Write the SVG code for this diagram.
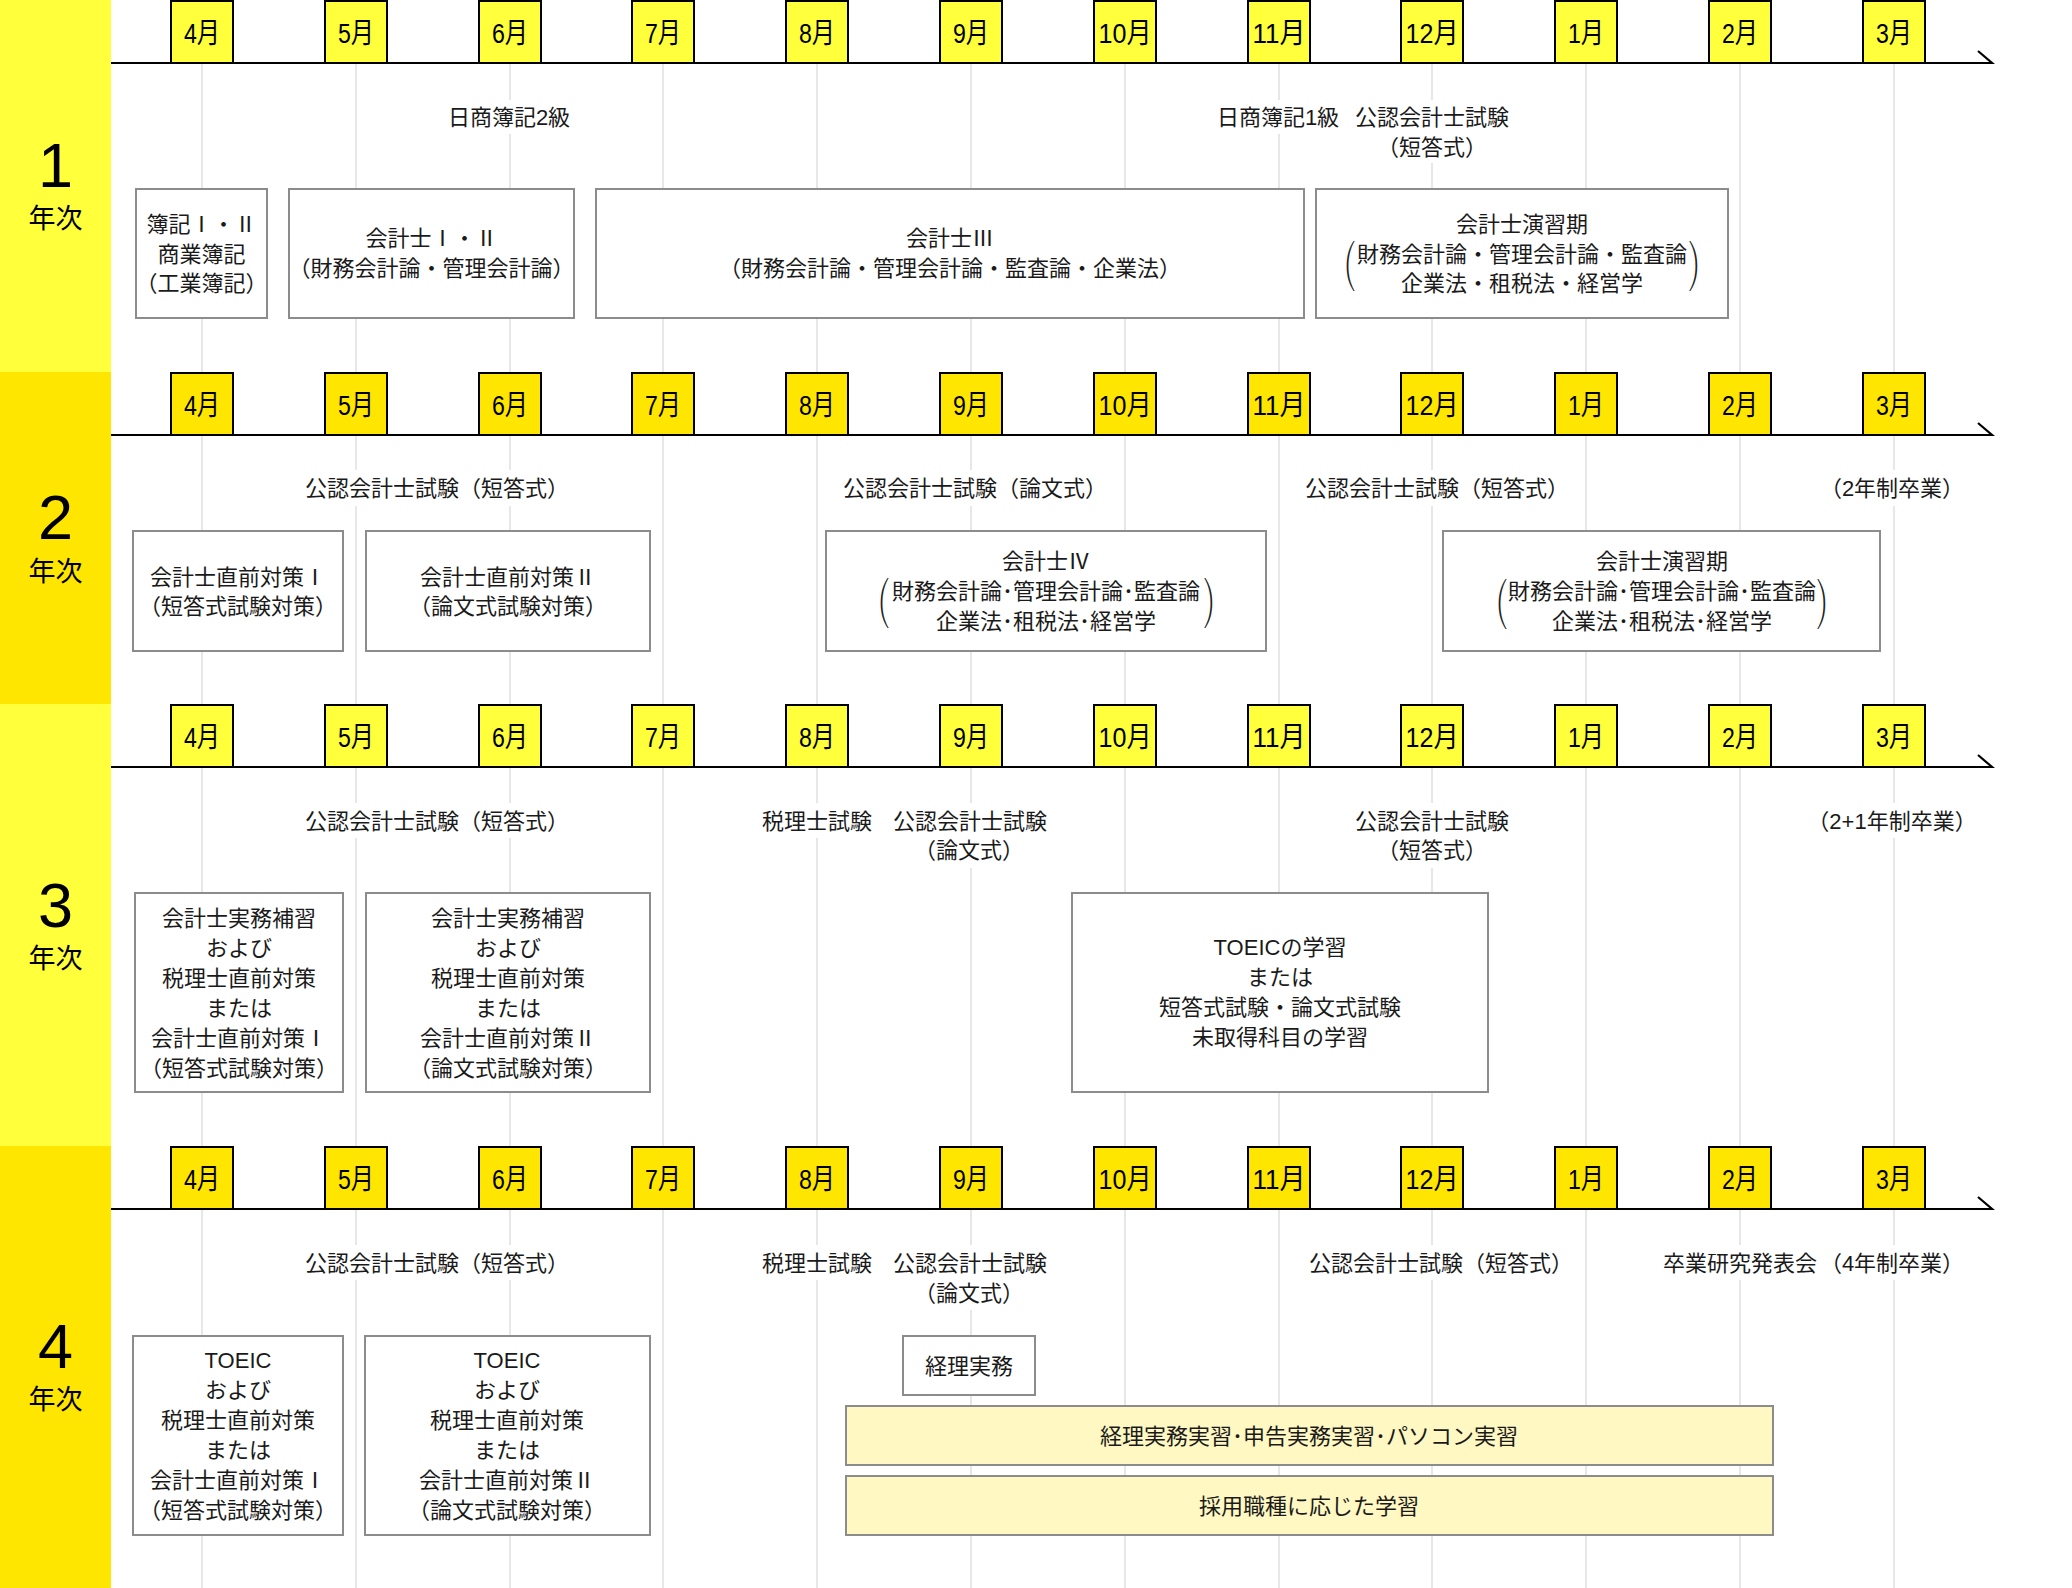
<svg xmlns="http://www.w3.org/2000/svg" width="2072" height="1588" viewBox="0 0 2072 1588">
<defs>
<style>
.s1{fill:#FFFF3C}
.s2{fill:#FFE600}
.m1{fill:#FFFF3C;stroke:#000;stroke-width:2}
.m2{fill:#FFE600;stroke:#000;stroke-width:2}
.ml{font-family:"Liberation Sans","Noto Sans CJK JP",sans-serif;font-size:28px;text-anchor:middle;fill:#000}
.grid{fill:none;stroke:#cfcfcf;stroke-width:1}
.axis{fill:none;stroke:#000;stroke-width:2.2}
.box{fill:#fff;stroke:#8c8c8c;stroke-width:2}
.ybox{fill:#FFF8C2;stroke:#8c8c8c;stroke-width:2}
.t{font-family:"Liberation Sans","Noto Sans CJK JP",sans-serif;font-size:22px;text-anchor:middle;fill:#1a1a1a}
.bg{fill:#fff}
.p{font-family:"Liberation Sans",sans-serif;font-size:40px;text-anchor:middle;fill:#1a1a1a;stroke:#fff;stroke-width:1.6px}
.yr{font-family:"Liberation Sans",sans-serif;font-size:63px;text-anchor:middle;fill:#000}
.yk{font-family:"Liberation Sans","Noto Sans CJK JP",sans-serif;font-size:27px;text-anchor:middle;fill:#000}
</style>
</defs>
<rect x="0" y="0" width="2072" height="1588" fill="#fff"/>

<g id="sidebar">
<rect class="s1" x="0" y="0" width="111" height="372"/>
<rect class="s2" x="0" y="372" width="111" height="332"/>
<rect class="s1" x="0" y="704" width="111" height="442"/>
<rect class="s2" x="0" y="1146" width="111" height="442"/>
<text class="yr" x="55.5" y="187">1</text><text class="yk" x="55.5" y="228">年次</text>
<text class="yr" x="55.5" y="539">2</text><text class="yk" x="55.5" y="581">年次</text>
<text class="yr" x="55.5" y="927">3</text><text class="yk" x="55.5" y="968">年次</text>
<text class="yr" x="55.5" y="1368">4</text><text class="yk" x="55.5" y="1409">年次</text>
</g>

<g id="connectors">
<path class="grid" d="M202 63V372M356 63V372M510 63V372M663 63V372M817 63V372M971 63V372M1125 63V372M1279 63V372M1432 63V372M1586 63V372M1740 63V372M1894 63V372"/>
<path class="grid" d="M202 435V704M356 435V704M510 435V704M663 435V704M817 435V704M971 435V704M1125 435V704M1279 435V704M1432 435V704M1586 435V704M1740 435V704M1894 435V704"/>
<path class="grid" d="M202 767V1146M356 767V1146M510 767V1146M663 767V1146M817 767V1146M971 767V1146M1125 767V1146M1279 767V1146M1432 767V1146M1586 767V1146M1740 767V1146M1894 767V1146"/>
<path class="grid" d="M202 1209V1588M356 1209V1588M510 1209V1588M663 1209V1588M817 1209V1588M971 1209V1588M1125 1209V1588M1279 1209V1588M1432 1209V1588M1586 1209V1588M1740 1209V1588M1894 1209V1588"/>
<path class="axis" d="M111 63H1992L1978 51"/>
<path class="axis" d="M111 435H1992L1978 423"/>
<path class="axis" d="M111 767H1992L1978 755"/>
<path class="axis" d="M111 1209H1992L1978 1197"/>
</g>

<g id="labels">
<rect class="bg" x="442" y="100" width="134" height="34"/>
<text class="t" x="509" y="125">日商簿記2級</text>
<rect class="bg" x="1211" y="100" width="134" height="34"/>
<text class="t" x="1278" y="125">日商簿記1級</text>
<rect class="bg" x="1350" y="100" width="164" height="63"/>
<text class="t" x="1432" y="125">公認会計士試験</text>
<text class="t" x="1432" y="155">（短答式）</text>

<rect class="bg" x="300" y="470" width="262" height="36"/>
<text class="t" x="437" y="496">公認会計士試験（短答式）</text>
<rect class="bg" x="839" y="470" width="261" height="36"/>
<text class="t" x="975" y="496">公認会計士試験（論文式）</text>
<rect class="bg" x="1301" y="470" width="262" height="36"/>
<text class="t" x="1437" y="496">公認会計士試験（短答式）</text>
<rect class="bg" x="1826" y="470" width="132" height="36"/>
<text class="t" x="1892" y="496">（2年制卒業）</text>

<rect class="bg" x="300" y="803" width="262" height="35"/>
<text class="t" x="437" y="829">公認会計士試験（短答式）</text>
<rect class="bg" x="756" y="803" width="122" height="35"/>
<text class="t" x="817" y="829">税理士試験</text>
<rect class="bg" x="887" y="803" width="166" height="65"/>
<text class="t" x="970" y="829">公認会計士試験</text>
<text class="t" x="969" y="858">（論文式）</text>
<rect class="bg" x="1350" y="803" width="165" height="65"/>
<text class="t" x="1432" y="829">公認会計士試験</text>
<text class="t" x="1432" y="858">（短答式）</text>
<rect class="bg" x="1812" y="803" width="160" height="35"/>
<text class="t" x="1892" y="829">（2+1年制卒業）</text>

<rect class="bg" x="300" y="1245" width="262" height="35"/>
<text class="t" x="437" y="1271">公認会計士試験（短答式）</text>
<rect class="bg" x="756" y="1245" width="122" height="35"/>
<text class="t" x="817" y="1271">税理士試験</text>
<rect class="bg" x="887" y="1245" width="166" height="65"/>
<text class="t" x="970" y="1271">公認会計士試験</text>
<text class="t" x="969" y="1301">（論文式）</text>
<rect class="bg" x="1305" y="1245" width="262" height="35"/>
<text class="t" x="1441" y="1271">公認会計士試験（短答式）</text>
<rect class="bg" x="1656" y="1245" width="164" height="35"/>
<text class="t" x="1740" y="1271">卒業研究発表会</text>
<rect class="bg" x="1826" y="1245" width="132" height="35"/>
<text class="t" x="1892" y="1271">（4年制卒業）</text>
</g>

<g id="months-1">
<rect class="m1" x="171" y="1" width="62" height="62"/><text class="ml" x="202" y="43" textLength="36" lengthAdjust="spacingAndGlyphs">4月</text>
<rect class="m1" x="325" y="1" width="62" height="62"/><text class="ml" x="356" y="43" textLength="36" lengthAdjust="spacingAndGlyphs">5月</text>
<rect class="m1" x="479" y="1" width="62" height="62"/><text class="ml" x="510" y="43" textLength="36" lengthAdjust="spacingAndGlyphs">6月</text>
<rect class="m1" x="632" y="1" width="62" height="62"/><text class="ml" x="663" y="43" textLength="36" lengthAdjust="spacingAndGlyphs">7月</text>
<rect class="m1" x="786" y="1" width="62" height="62"/><text class="ml" x="817" y="43" textLength="36" lengthAdjust="spacingAndGlyphs">8月</text>
<rect class="m1" x="940" y="1" width="62" height="62"/><text class="ml" x="971" y="43" textLength="36" lengthAdjust="spacingAndGlyphs">9月</text>
<rect class="m1" x="1094" y="1" width="62" height="62"/><text class="ml" x="1125" y="43" textLength="53" lengthAdjust="spacingAndGlyphs">10月</text>
<rect class="m1" x="1248" y="1" width="62" height="62"/><text class="ml" x="1279" y="43" textLength="53" lengthAdjust="spacingAndGlyphs">11月</text>
<rect class="m1" x="1401" y="1" width="62" height="62"/><text class="ml" x="1432" y="43" textLength="53" lengthAdjust="spacingAndGlyphs">12月</text>
<rect class="m1" x="1555" y="1" width="62" height="62"/><text class="ml" x="1586" y="43" textLength="36" lengthAdjust="spacingAndGlyphs">1月</text>
<rect class="m1" x="1709" y="1" width="62" height="62"/><text class="ml" x="1740" y="43" textLength="36" lengthAdjust="spacingAndGlyphs">2月</text>
<rect class="m1" x="1863" y="1" width="62" height="62"/><text class="ml" x="1894" y="43" textLength="36" lengthAdjust="spacingAndGlyphs">3月</text>
</g>

<g id="months-2">
<rect class="m2" x="171" y="373" width="62" height="62"/><text class="ml" x="202" y="415" textLength="36" lengthAdjust="spacingAndGlyphs">4月</text>
<rect class="m2" x="325" y="373" width="62" height="62"/><text class="ml" x="356" y="415" textLength="36" lengthAdjust="spacingAndGlyphs">5月</text>
<rect class="m2" x="479" y="373" width="62" height="62"/><text class="ml" x="510" y="415" textLength="36" lengthAdjust="spacingAndGlyphs">6月</text>
<rect class="m2" x="632" y="373" width="62" height="62"/><text class="ml" x="663" y="415" textLength="36" lengthAdjust="spacingAndGlyphs">7月</text>
<rect class="m2" x="786" y="373" width="62" height="62"/><text class="ml" x="817" y="415" textLength="36" lengthAdjust="spacingAndGlyphs">8月</text>
<rect class="m2" x="940" y="373" width="62" height="62"/><text class="ml" x="971" y="415" textLength="36" lengthAdjust="spacingAndGlyphs">9月</text>
<rect class="m2" x="1094" y="373" width="62" height="62"/><text class="ml" x="1125" y="415" textLength="53" lengthAdjust="spacingAndGlyphs">10月</text>
<rect class="m2" x="1248" y="373" width="62" height="62"/><text class="ml" x="1279" y="415" textLength="53" lengthAdjust="spacingAndGlyphs">11月</text>
<rect class="m2" x="1401" y="373" width="62" height="62"/><text class="ml" x="1432" y="415" textLength="53" lengthAdjust="spacingAndGlyphs">12月</text>
<rect class="m2" x="1555" y="373" width="62" height="62"/><text class="ml" x="1586" y="415" textLength="36" lengthAdjust="spacingAndGlyphs">1月</text>
<rect class="m2" x="1709" y="373" width="62" height="62"/><text class="ml" x="1740" y="415" textLength="36" lengthAdjust="spacingAndGlyphs">2月</text>
<rect class="m2" x="1863" y="373" width="62" height="62"/><text class="ml" x="1894" y="415" textLength="36" lengthAdjust="spacingAndGlyphs">3月</text>
</g>

<g id="months-3">
<rect class="m1" x="171" y="705" width="62" height="62"/><text class="ml" x="202" y="747" textLength="36" lengthAdjust="spacingAndGlyphs">4月</text>
<rect class="m1" x="325" y="705" width="62" height="62"/><text class="ml" x="356" y="747" textLength="36" lengthAdjust="spacingAndGlyphs">5月</text>
<rect class="m1" x="479" y="705" width="62" height="62"/><text class="ml" x="510" y="747" textLength="36" lengthAdjust="spacingAndGlyphs">6月</text>
<rect class="m1" x="632" y="705" width="62" height="62"/><text class="ml" x="663" y="747" textLength="36" lengthAdjust="spacingAndGlyphs">7月</text>
<rect class="m1" x="786" y="705" width="62" height="62"/><text class="ml" x="817" y="747" textLength="36" lengthAdjust="spacingAndGlyphs">8月</text>
<rect class="m1" x="940" y="705" width="62" height="62"/><text class="ml" x="971" y="747" textLength="36" lengthAdjust="spacingAndGlyphs">9月</text>
<rect class="m1" x="1094" y="705" width="62" height="62"/><text class="ml" x="1125" y="747" textLength="53" lengthAdjust="spacingAndGlyphs">10月</text>
<rect class="m1" x="1248" y="705" width="62" height="62"/><text class="ml" x="1279" y="747" textLength="53" lengthAdjust="spacingAndGlyphs">11月</text>
<rect class="m1" x="1401" y="705" width="62" height="62"/><text class="ml" x="1432" y="747" textLength="53" lengthAdjust="spacingAndGlyphs">12月</text>
<rect class="m1" x="1555" y="705" width="62" height="62"/><text class="ml" x="1586" y="747" textLength="36" lengthAdjust="spacingAndGlyphs">1月</text>
<rect class="m1" x="1709" y="705" width="62" height="62"/><text class="ml" x="1740" y="747" textLength="36" lengthAdjust="spacingAndGlyphs">2月</text>
<rect class="m1" x="1863" y="705" width="62" height="62"/><text class="ml" x="1894" y="747" textLength="36" lengthAdjust="spacingAndGlyphs">3月</text>
</g>

<g id="months-4">
<rect class="m2" x="171" y="1147" width="62" height="62"/><text class="ml" x="202" y="1189" textLength="36" lengthAdjust="spacingAndGlyphs">4月</text>
<rect class="m2" x="325" y="1147" width="62" height="62"/><text class="ml" x="356" y="1189" textLength="36" lengthAdjust="spacingAndGlyphs">5月</text>
<rect class="m2" x="479" y="1147" width="62" height="62"/><text class="ml" x="510" y="1189" textLength="36" lengthAdjust="spacingAndGlyphs">6月</text>
<rect class="m2" x="632" y="1147" width="62" height="62"/><text class="ml" x="663" y="1189" textLength="36" lengthAdjust="spacingAndGlyphs">7月</text>
<rect class="m2" x="786" y="1147" width="62" height="62"/><text class="ml" x="817" y="1189" textLength="36" lengthAdjust="spacingAndGlyphs">8月</text>
<rect class="m2" x="940" y="1147" width="62" height="62"/><text class="ml" x="971" y="1189" textLength="36" lengthAdjust="spacingAndGlyphs">9月</text>
<rect class="m2" x="1094" y="1147" width="62" height="62"/><text class="ml" x="1125" y="1189" textLength="53" lengthAdjust="spacingAndGlyphs">10月</text>
<rect class="m2" x="1248" y="1147" width="62" height="62"/><text class="ml" x="1279" y="1189" textLength="53" lengthAdjust="spacingAndGlyphs">11月</text>
<rect class="m2" x="1401" y="1147" width="62" height="62"/><text class="ml" x="1432" y="1189" textLength="53" lengthAdjust="spacingAndGlyphs">12月</text>
<rect class="m2" x="1555" y="1147" width="62" height="62"/><text class="ml" x="1586" y="1189" textLength="36" lengthAdjust="spacingAndGlyphs">1月</text>
<rect class="m2" x="1709" y="1147" width="62" height="62"/><text class="ml" x="1740" y="1189" textLength="36" lengthAdjust="spacingAndGlyphs">2月</text>
<rect class="m2" x="1863" y="1147" width="62" height="62"/><text class="ml" x="1894" y="1189" textLength="36" lengthAdjust="spacingAndGlyphs">3月</text>
</g>

<g id="y1-boki">
<rect class="box" x="136" y="189" width="131" height="129"/>
<text class="t" x="201.5" y="232">簿記Ⅰ・Ⅱ</text>
<text class="t" x="201.5" y="262">商業簿記</text>
<text class="t" x="201.5" y="291">（工業簿記）</text>
</g>
<g id="y1-kaikeishi12">
<rect class="box" x="289" y="189" width="285" height="129"/>
<text class="t" x="431.5" y="246">会計士Ⅰ・Ⅱ</text>
<text class="t" x="431.5" y="276">（財務会計論・管理会計論）</text>
</g>
<g id="y1-kaikeishi3">
<rect class="box" x="596" y="189" width="708" height="129"/>
<text class="t" x="950" y="246">会計士Ⅲ</text>
<text class="t" x="950" y="276">（財務会計論・管理会計論・監査論・企業法）</text>
</g>
<g id="y1-enshu">
<rect class="box" x="1316" y="189" width="412" height="129"/>
<text class="t" x="1522" y="232">会計士演習期</text>
<text class="t" x="1522" y="262">財務会計論・管理会計論・監査論</text>
<text class="t" x="1522" y="291">企業法・租税法・経営学</text>
<text class="p" transform="translate(1350 280) scale(1 1.38)">(</text>
<text class="p" transform="translate(1694 280) scale(1 1.38)">)</text>
</g>

<g id="y2-chokuzen1">
<rect class="box" x="133" y="531" width="210" height="120"/>
<text class="t" x="238" y="585">会計士直前対策Ⅰ</text>
<text class="t" x="238" y="614">（短答式試験対策）</text>
</g>
<g id="y2-chokuzen2">
<rect class="box" x="366" y="531" width="284" height="120"/>
<text class="t" x="508" y="585">会計士直前対策Ⅱ</text>
<text class="t" x="508" y="614">（論文式試験対策）</text>
</g>
<g id="y2-kaikeishi4">
<rect class="box" x="826" y="531" width="440" height="120"/>
<text class="t" x="1046" y="569">会計士Ⅳ</text>
<text class="t" x="1046" y="599">財務会計論･管理会計論･監査論</text>
<text class="t" x="1046" y="629">企業法･租税法･経営学</text>
<text class="p" transform="translate(884 617) scale(1 1.38)">(</text>
<text class="p" transform="translate(1209 617) scale(1 1.38)">)</text>
</g>
<g id="y2-enshu">
<rect class="box" x="1443" y="531" width="437" height="120"/>
<text class="t" x="1662" y="569">会計士演習期</text>
<text class="t" x="1662" y="599">財務会計論･管理会計論･監査論</text>
<text class="t" x="1662" y="629">企業法･租税法･経営学</text>
<text class="p" transform="translate(1502 618) scale(1 1.38)">(</text>
<text class="p" transform="translate(1822 618) scale(1 1.38)">)</text>
</g>

<g id="y3-box1">
<rect class="box" x="135" y="893" width="208" height="199"/>
<text class="t" x="239" y="926">会計士実務補習</text>
<text class="t" x="239" y="956">および</text>
<text class="t" x="239" y="986">税理士直前対策</text>
<text class="t" x="239" y="1016">または</text>
<text class="t" x="239" y="1046">会計士直前対策Ⅰ</text>
<text class="t" x="239" y="1076">（短答式試験対策）</text>
</g>
<g id="y3-box2">
<rect class="box" x="366" y="893" width="284" height="199"/>
<text class="t" x="508" y="926">会計士実務補習</text>
<text class="t" x="508" y="956">および</text>
<text class="t" x="508" y="986">税理士直前対策</text>
<text class="t" x="508" y="1016">または</text>
<text class="t" x="508" y="1046">会計士直前対策Ⅱ</text>
<text class="t" x="508" y="1076">（論文式試験対策）</text>
</g>
<g id="y3-toeic">
<rect class="box" x="1072" y="893" width="416" height="199"/>
<text class="t" x="1280" y="955">TOEICの学習</text>
<text class="t" x="1280" y="985">または</text>
<text class="t" x="1280" y="1015">短答式試験・論文式試験</text>
<text class="t" x="1280" y="1045">未取得科目の学習</text>
</g>

<g id="y4-box1">
<rect class="box" x="133" y="1336" width="210" height="199"/>
<text class="t" x="238" y="1368">TOEIC</text>
<text class="t" x="238" y="1398">および</text>
<text class="t" x="238" y="1428">税理士直前対策</text>
<text class="t" x="238" y="1458">または</text>
<text class="t" x="238" y="1488">会計士直前対策Ⅰ</text>
<text class="t" x="238" y="1518">（短答式試験対策）</text>
</g>
<g id="y4-box2">
<rect class="box" x="365" y="1336" width="285" height="199"/>
<text class="t" x="507" y="1368">TOEIC</text>
<text class="t" x="507" y="1398">および</text>
<text class="t" x="507" y="1428">税理士直前対策</text>
<text class="t" x="507" y="1458">または</text>
<text class="t" x="507" y="1488">会計士直前対策Ⅱ</text>
<text class="t" x="507" y="1518">（論文式試験対策）</text>
</g>
<g id="y4-keiri">
<rect class="box" x="903" y="1336" width="132" height="59"/>
<text class="t" x="969" y="1374">経理実務</text>
</g>
<g id="y4-jisshu">
<rect class="ybox" x="846" y="1406" width="927" height="59"/>
<text class="t" x="1309" y="1444">経理実務実習･申告実務実習･パソコン実習</text>
</g>
<g id="y4-saiyo">
<rect class="ybox" x="846" y="1476" width="927" height="59"/>
<text class="t" x="1309" y="1514">採用職種に応じた学習</text>
</g>
</svg>
